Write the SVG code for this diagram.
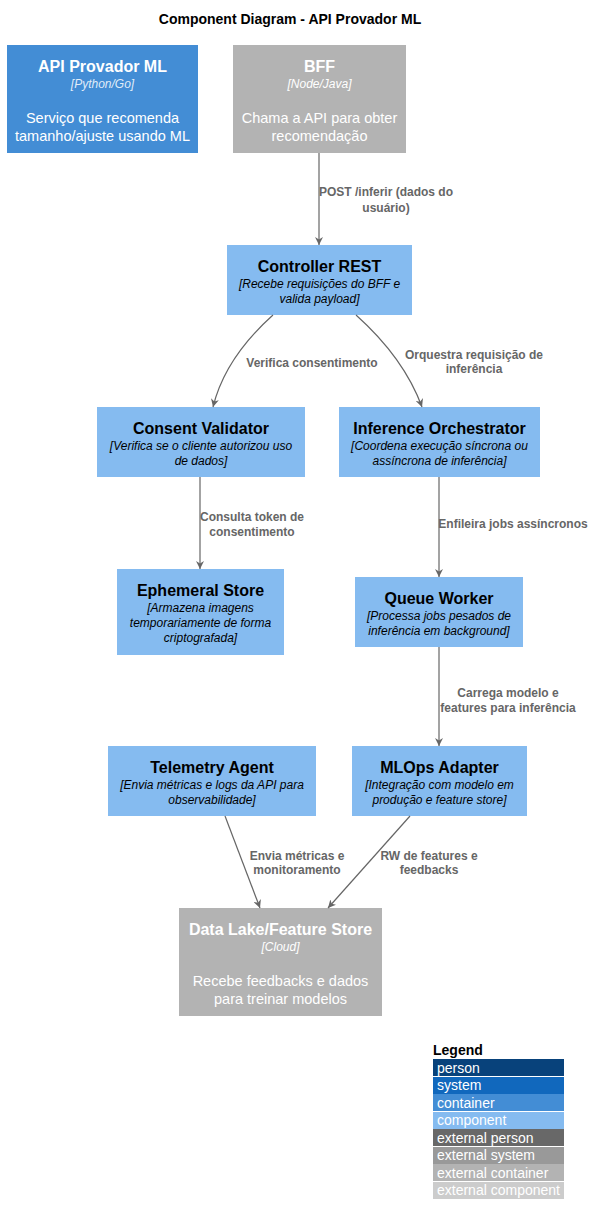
<svg xmlns="http://www.w3.org/2000/svg" width="594" height="1225" viewBox="0 0 594 1225">
<style>
text{font-family:"Liberation Sans",Arial,sans-serif}
.t{font-size:14px;font-weight:bold;fill:#000}
.nt{font-size:16px;font-weight:bold;text-anchor:middle}
.tech{font-size:12px;font-style:italic;text-anchor:middle}
.desc{font-size:14.5px;text-anchor:middle}
.cd{font-size:12px;font-style:italic;text-anchor:middle;fill:#000}
.w{fill:#fff}
.k{fill:#000}
.lbl{font-size:12px;font-weight:bold;fill:#666;text-anchor:middle}
.ln{stroke:#666;stroke-width:1.2;fill:none}
.lg{font-size:14px;fill:#fff}
.cont{fill:#438DD5}
.ext{fill:#B3B3B3}
.comp{fill:#85BBF0}
</style>
<defs>
<marker id="ah" viewBox="0 0 10 10" refX="10" refY="5" markerWidth="8" markerHeight="8" orient="auto" markerUnits="userSpaceOnUse">
<path d="M0,0 L10,5 L0,10 L3,5 Z" fill="#666"/>
</marker>
</defs>
<rect width="594" height="1225" fill="#fff"/>
<text class="t" x="290" y="24" text-anchor="middle">Component Diagram - API Provador ML</text>

<g id="api">
<rect class="cont" x="7" y="45" width="191" height="108"/>
<text class="nt w" x="102.5" y="72">API Provador ML</text>
<text class="tech w" x="102.5" y="88" fill-opacity="0.85">[Python/Go]</text>
<text class="desc w" x="102.5" y="123">Serviço que recomenda</text>
<text class="desc w" x="102.5" y="141">tamanho/ajuste usando ML</text>
</g>

<g id="bff">
<rect class="ext" x="233" y="45" width="173" height="108"/>
<text class="nt w" x="319.5" y="72">BFF</text>
<text class="tech w" x="319.5" y="88">[Node/Java]</text>
<text class="desc w" x="319.5" y="123">Chama a API para obter</text>
<text class="desc w" x="319.5" y="141">recomendação</text>
</g>

<g id="controller">
<rect class="comp" x="227" y="245" width="185" height="70"/>
<text class="nt k" x="319.5" y="272">Controller REST</text>
<text class="cd" x="319.5" y="288">[Recebe requisições do BFF e</text>
<text class="cd" x="319.5" y="303">valida payload]</text>
</g>

<g id="consent">
<rect class="comp" x="97" y="407" width="208" height="70"/>
<text class="nt k" x="201" y="434">Consent Validator</text>
<text class="cd" x="201" y="450">[Verifica se o cliente autorizou uso</text>
<text class="cd" x="201" y="465">de dados]</text>
</g>

<g id="orchestrator">
<rect class="comp" x="339" y="407" width="201" height="70"/>
<text class="nt k" x="439.5" y="434">Inference Orchestrator</text>
<text class="cd" x="439.5" y="450">[Coordena execução síncrona ou</text>
<text class="cd" x="439.5" y="465">assíncrona de inferência]</text>
</g>

<g id="ephemeral">
<rect class="comp" x="117" y="569" width="167" height="86"/>
<text class="nt k" x="200.5" y="596">Ephemeral Store</text>
<text class="cd" x="200.5" y="612">[Armazena imagens</text>
<text class="cd" x="200.5" y="627">temporariamente de forma</text>
<text class="cd" x="200.5" y="642">criptografada]</text>
</g>

<g id="queue">
<rect class="comp" x="355" y="577" width="168" height="70"/>
<text class="nt k" x="439" y="604">Queue Worker</text>
<text class="cd" x="439" y="620">[Processa jobs pesados de</text>
<text class="cd" x="439" y="635">inferência em background]</text>
</g>

<g id="telemetry">
<rect class="comp" x="108" y="746" width="208" height="70"/>
<text class="nt k" x="212" y="773">Telemetry Agent</text>
<text class="cd" x="212" y="789">[Envia métricas e logs da API para</text>
<text class="cd" x="212" y="804">observabilidade]</text>
</g>

<g id="mlops">
<rect class="comp" x="352" y="746" width="175" height="70"/>
<text class="nt k" x="439.5" y="773">MLOps Adapter</text>
<text class="cd" x="439.5" y="789">[Integração com modelo em</text>
<text class="cd" x="439.5" y="804">produção e feature store]</text>
</g>

<g id="datalake">
<rect class="ext" x="179" y="908" width="203" height="108"/>
<text class="nt w" x="280.5" y="935">Data Lake/Feature Store</text>
<text class="tech w" x="280.5" y="951">[Cloud]</text>
<text class="desc w" x="280.5" y="986">Recebe feedbacks e dados</text>
<text class="desc w" x="280.5" y="1004">para treinar modelos</text>
</g>

<g id="connectors">
<path class="ln" d="M319,153 L319,245" marker-end="url(#ah)"/>
<text class="lbl" x="386" y="196">POST /inferir (dados do</text>
<text class="lbl" x="386" y="212">usuário)</text>

<path class="ln" d="M273,315 Q225,358 213,407" marker-end="url(#ah)"/>
<text class="lbl" x="312" y="367">Verifica consentimento</text>

<path class="ln" d="M356,315 Q404,358 422,407" marker-end="url(#ah)"/>
<text class="lbl" x="474" y="359">Orquestra requisição de</text>
<text class="lbl" x="474" y="373">inferência</text>

<path class="ln" d="M200,477 L200,569" marker-end="url(#ah)"/>
<text class="lbl" x="252" y="521">Consulta token de</text>
<text class="lbl" x="252" y="536">consentimento</text>

<path class="ln" d="M439,477 L439,577" marker-end="url(#ah)"/>
<text class="lbl" x="513" y="528">Enfileira jobs assíncronos</text>

<path class="ln" d="M439,647 L439,746" marker-end="url(#ah)"/>
<text class="lbl" x="508" y="697">Carrega modelo e</text>
<text class="lbl" x="508" y="712">features para inferência</text>

<path class="ln" d="M225,816 L260,908" marker-end="url(#ah)"/>
<text class="lbl" x="297" y="860">Envia métricas e</text>
<text class="lbl" x="297" y="874">monitoramento</text>

<path class="ln" d="M410,816 L328,908" marker-end="url(#ah)"/>
<text class="lbl" x="429" y="860">RW de features e</text>
<text class="lbl" x="429" y="874">feedbacks</text>
</g>

<g id="legend">
<text class="t" x="433" y="1055" text-anchor="start">Legend</text>
<rect x="433" y="1059" width="131" height="17" fill="#08427B"/>
<text class="lg" x="437" y="1073">person</text>
<rect x="433" y="1077" width="131" height="17" fill="#1168BD"/>
<text class="lg" x="437" y="1090">system</text>
<rect x="433" y="1094" width="131" height="17" fill="#438DD5"/>
<text class="lg" x="437" y="1108">container</text>
<rect x="433" y="1112" width="131" height="17" fill="#85BBF0"/>
<text class="lg" x="437" y="1125">component</text>
<rect x="433" y="1129" width="131" height="17" fill="#686868"/>
<text class="lg" x="437" y="1143">external person</text>
<rect x="433" y="1147" width="131" height="17" fill="#999999"/>
<text class="lg" x="437" y="1160">external system</text>
<rect x="433" y="1164" width="131" height="17" fill="#B3B3B3"/>
<text class="lg" x="437" y="1178">external container</text>
<rect x="433" y="1182" width="131" height="17" fill="#CCCCCC"/>
<text class="lg" x="437" y="1195">external component</text>
</g>
</svg>
